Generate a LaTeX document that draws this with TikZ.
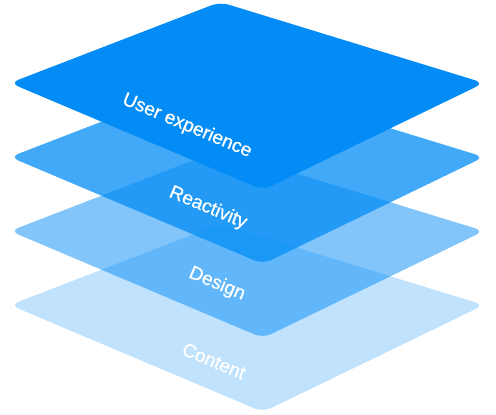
\documentclass[tikz,border=0pt]{standalone}
\usepackage{fontspec}
\newfontfamily\lblfont[FakeBold=0.7]{Liberation Sans}
\definecolor{layerblue}{RGB}{3,140,245}

\tikzstyle{layer} = [fill=layerblue, rounded corners=9pt, draw=none]
\tikzstyle{lbl} = [text=white, rotate=-22.8, font=\lblfont\fontsize{19}{22}\selectfont]

\begin{document}
\begin{tikzpicture}[x=1pt, y=-1pt]
\useasboundingbox (0,0) rectangle (496,415);

% layers, from bottom to top
\fill[layer, fill opacity=0.25, shift={(0,222)}] (10,83) -- (220,2) -- (484,83) -- (263,190) -- cycle;
\fill[layer, fill opacity=0.5, shift={(0,148)}] (10,83) -- (220,2) -- (484,83) -- (263,190) -- cycle;
\fill[layer, fill opacity=0.75, shift={(0,74)}] (10,83) -- (220,2) -- (484,83) -- (263,190) -- cycle;
\fill[layer] (10,83) -- (220,2) -- (484,83) -- (263,190) -- cycle;

\node[lbl] (content) at (214,361) {Content};
\node[lbl] (design) at (217,284) {Design};
\node[lbl] (reactivity) at (208,208) {Reactivity};
\node[lbl] (ux) at (187,126) {User experience};

\end{tikzpicture}
\end{document}
